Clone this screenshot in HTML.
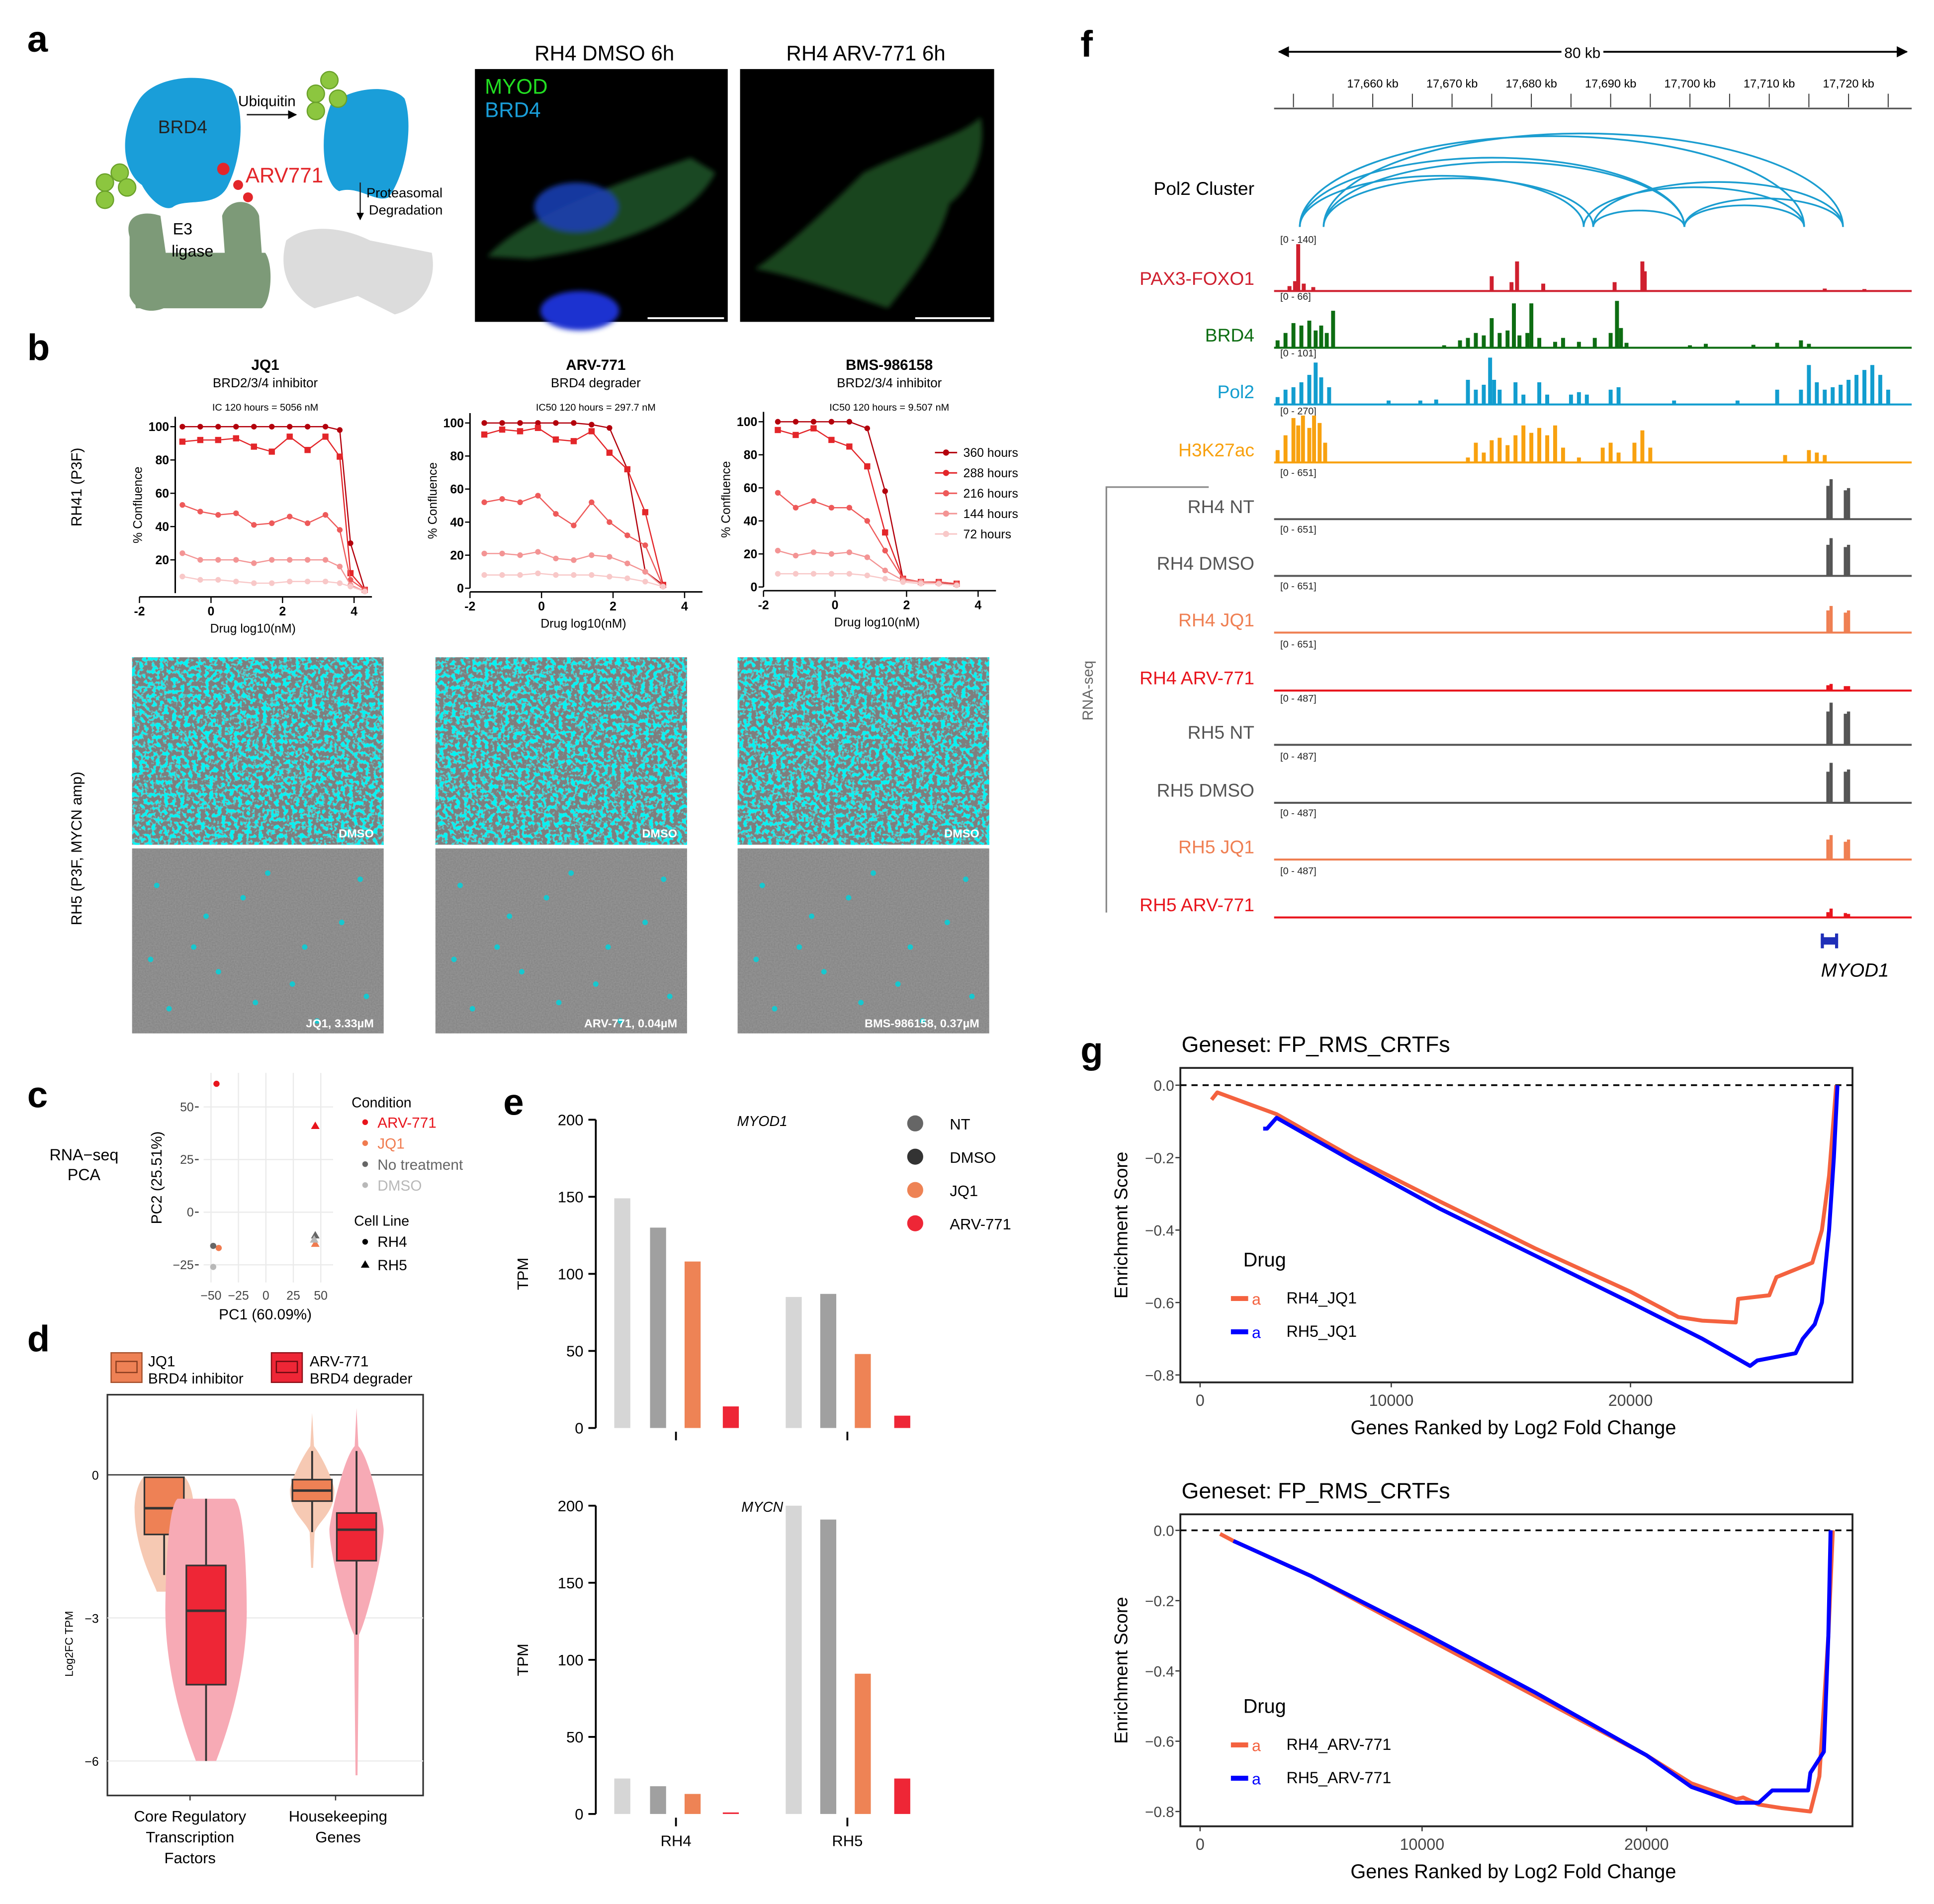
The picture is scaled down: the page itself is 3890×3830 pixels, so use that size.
<!DOCTYPE html>
<html><head><meta charset="utf-8">
<style>
html,body{margin:0;padding:0;background:#fff;}
svg{display:block;}
text{font-family:"Liberation Sans",sans-serif;}
</style></head>
<body>
<svg id="fig" width="3890" height="3830" viewBox="0 0 1568 1544" xmlns="http://www.w3.org/2000/svg">
<defs>
  <filter id="cyanNoise" x="0" y="0" width="100%" height="100%">
    <feTurbulence type="fractalNoise" baseFrequency="0.3" numOctaves="2" seed="3" result="n"/>
    <feColorMatrix in="n" type="matrix" values="0 0 0 0 0  0 0 0 0 0.9  0 0 0 0 0.9  7 0 0 0 -3.3" result="c"/>
    <feComposite in="c" in2="SourceGraphic" operator="over"/>
  </filter>
  <filter id="grain" x="0" y="0" width="100%" height="100%">
    <feTurbulence type="fractalNoise" baseFrequency="0.9" numOctaves="1" seed="7" result="n"/>
    <feColorMatrix in="n" type="matrix" values="0 0 0 0 0.5  0 0 0 0 0.5  0 0 0 0 0.5  0 0 0 0.35 0" result="g"/>
    <feComposite in="g" in2="SourceGraphic" operator="over"/>
  </filter>
  <filter id="blur2"><feGaussianBlur stdDeviation="2"/></filter>
  <marker id="arrL" viewBox="0 0 10 10" refX="1" refY="5" markerWidth="6" markerHeight="6" orient="auto"><path d="M10 0 L0 5 L10 10z" fill="#000"/></marker>
  <marker id="arrR" viewBox="0 0 10 10" refX="9" refY="5" markerWidth="6" markerHeight="6" orient="auto"><path d="M0 0 L10 5 L0 10z" fill="#000"/></marker>
</defs>

<g font-weight="bold" font-size="30">
  <text x="22" y="42">a</text>
  <text x="22" y="292">b</text>
  <text x="22" y="898">c</text>
  <text x="22" y="1096">d</text>
  <text x="408" y="904">e</text>
  <text x="876" y="46">f</text>
  <text x="876" y="862">g</text>
</g>

<g>
  <path d="M112 82 C125 60 170 58 188 72 C200 92 195 130 185 150 C176 170 150 160 140 168 C132 172 120 160 115 150 C100 140 95 110 112 82z" fill="#1a9ed9"/>
  <text x="128" y="108" font-size="15" fill="#222">BRD4</text>
  <path d="M268 85 C285 70 318 68 328 80 C335 100 330 140 315 160 C305 165 290 150 275 155 C262 150 258 110 268 85z" fill="#1a9ed9"/>
  <g fill="#8cc63f" stroke="#6aa12a" stroke-width="1">
    <circle cx="85" cy="148" r="7"/><circle cx="97" cy="140" r="7"/><circle cx="103" cy="152" r="7"/><circle cx="85" cy="162" r="7"/>
  </g>
  <g fill="#8cc63f" stroke="#6aa12a" stroke-width="1">
    <circle cx="256" cy="76" r="7"/><circle cx="267" cy="65" r="7"/><circle cx="274" cy="80" r="7"/><circle cx="256" cy="90" r="7"/>
  </g>
  <text x="193" y="86" font-size="12">Ubiquitin</text>
  <line x1="200" y1="93" x2="240" y2="93" stroke="#222" stroke-width="1.2" marker-end="url(#arrR)"/>
  <path d="M105 192 C100 175 115 170 130 175 L140 245 C130 255 110 255 105 240z" fill="#7d9a78"/>
  <path d="M105 205 L215 205 C222 215 220 245 212 250 L110 250z" fill="#7d9a78"/>
  <path d="M180 175 C185 160 205 160 210 175 L215 245 L185 245z" fill="#7d9a78"/>
  <text x="148" y="190" font-size="13" text-anchor="middle">E3</text>
  <text x="156" y="208" font-size="13" text-anchor="middle">ligase</text>
  <g fill="#e3262a"><circle cx="181" cy="137" r="5"/><circle cx="193" cy="150" r="4"/><circle cx="201" cy="160" r="4"/></g>
  <text x="199" y="148" font-size="17" fill="#e3262a">ARV771</text>
  <line x1="292" y1="148" x2="292" y2="178" stroke="#222" stroke-width="1" marker-end="url(#arrR)"/>
  <text x="297" y="160" font-size="11">Proteasomal</text>
  <text x="299" y="174" font-size="11">Degradation</text>
  <path d="M232 195 C250 180 280 185 300 195 L350 205 C355 230 340 250 320 255 L290 240 L255 250 C235 240 225 220 232 195z" fill="#dcdcdc"/>
</g>

<g>
  <text x="490" y="49" font-size="17" text-anchor="middle">RH4 DMSO 6h</text>
  <text x="702" y="49" font-size="17" text-anchor="middle">RH4 ARV-771 6h</text>
  <rect x="385" y="56" width="205" height="205" fill="#000"/>
  <g filter="url(#blur2)">
    <path d="M395 208 C420 180 480 155 560 128 L580 140 C560 180 500 200 430 210z" fill="#1f5a2a" opacity="0.8"/>
    <ellipse cx="467" cy="168" rx="34" ry="20" fill="#1a3fb0" opacity="0.9"/>
    <ellipse cx="470" cy="252" rx="32" ry="16" fill="#1a30d0"/>
  </g>
  <text x="393" y="76" font-size="17" fill="#22dd22">MYOD</text>
  <text x="393" y="95" font-size="17" fill="#1a9ed9">BRD4</text>
  <line x1="525" y1="258" x2="587" y2="258" stroke="#fff" stroke-width="1.5"/>
  <rect x="600" y="56" width="206" height="205" fill="#000"/>
  <path d="M612 218 C640 200 690 150 700 140 C740 120 780 110 795 95 C800 120 790 150 770 165 C760 200 740 225 720 250 C690 240 650 225 612 218z" fill="#1e4d24" opacity="0.9" filter="url(#blur2)"/>
  <line x1="742" y1="258" x2="803" y2="258" stroke="#fff" stroke-width="1.5"/>
</g>

<g id="doseGroup"></g>
<text x="66" y="395" font-size="12" transform="rotate(-90 66 395)" text-anchor="middle">RH41 (P3F)</text>
<text x="66" y="688" font-size="12" transform="rotate(-90 66 688)" text-anchor="middle">RH5 (P3F, MYCN amp)</text>

<g id="micro"></g>
<g id="pca"></g>
<g id="violin"></g>
<g id="bars"></g>
<g id="tracks"></g>
<g id="gsea"></g>
</svg>

<script>
const NS="http://www.w3.org/2000/svg";
function mk(parent,tag,attrs,txt){const e=document.createElementNS(NS,tag);for(const k in attrs)e.setAttribute(k,attrs[k]);if(txt!==undefined)e.textContent=txt;parent.appendChild(e);return e;}

/* ---------- Panel b data ---------- */
const doseSeriesNames=["360 hours","288 hours","216 hours","144 hours","72 hours"];
const doseColors=["#b3000c","#e3262a","#ee5a5a","#f39494","#f8c8c8"];
const jq1X=[-0.8,-0.3,0.2,0.7,1.2,1.7,2.2,2.7,3.2,3.6,3.9,4.3];
const jq1_360=[100,100,100,100,100,100,100,100,100,98,30,2];
const jq1_288=[91,92,92,93,88,85,94,86,94,82,12,2];
const jq1_216=[53,49,47,48,41,42,46,42,47,38,8,2];
const jq1_144=[24,20,20,20,18,20,20,20,20,16,5,1];
const jq1_72=[10,8,8,7,6,6,7,7,7,6,4,1];
const arvX=[-1.6,-1.1,-0.6,-0.1,0.4,0.9,1.4,1.9,2.4,2.9,3.4];
const arv_360=[100,100,100,100,100,100,99,97,72,10,2];
const arv_288=[93,96,95,97,90,89,95,82,72,46,2];
const arv_216=[52,54,52,56,45,38,52,40,32,26,1];
const arv_144=[21,21,20,22,18,17,20,19,15,10,1];
const arv_72=[8,8,8,9,8,8,8,7,6,4,1];
const bmsX=[-1.6,-1.1,-0.6,-0.1,0.4,0.9,1.4,1.9,2.4,2.9,3.4];
const bms_360=[100,100,100,100,100,96,58,5,3,2,2];
const bms_288=[95,92,96,89,85,73,33,5,3,3,2];
const bms_216=[57,48,52,48,48,40,22,5,3,3,2];
const bms_144=[22,19,21,20,21,18,10,4,3,2,1];
const bms_72=[8,8,8,8,8,7,5,3,2,2,1];
const doseTicksX=[-2,0,2,4];
const doseTicksY=[0,20,40,60,80,100];

const dosePlots=[
 {name:"jq1",title:"JQ1",sub:"BRD2/3/4 inhibitor",ic:"IC   120 hours = 5056 nM",x0:113,x4:287,yTop:338,yBot:481,yAxisAt:-1,X:jq1X,S:[jq1_360,jq1_288,jq1_216,jq1_144,jq1_72],ticksY:[20,40,60,80,100]},
 {name:"arv771",title:"ARV-771",sub:"BRD4 degrader",ic:"IC50 120 hours = 297.7 nM",x0:381,x4:555,yTop:335,yBot:477,yAxisAt:-2,X:arvX,S:[arv_360,arv_288,arv_216,arv_144,arv_72],ticksY:doseTicksY},
 {name:"bms",title:"BMS-986158",sub:"BRD2/3/4 inhibitor",ic:"IC50 120 hours = 9.507 nM",x0:619,x4:793,yTop:334,yBot:476,yAxisAt:-2,X:bmsX,S:[bms_360,bms_288,bms_216,bms_144,bms_72],ticksY:doseTicksY}
];
(function(){
 const G=document.getElementById("doseGroup");
 dosePlots.forEach(p=>{
  const g=mk(G,"g",{});
  
  
  const sx=v=>p.x0+(v+2)*(p.x4-p.x0)/6;
  const y100=p.yTop+8;
  const sy=v=>p.yBot-(v/100)*(p.yBot-y100);
  const cx=(p.x0+p.x4)/2+15;
  mk(g,"text",{x:cx,y:300,"font-size":12,"font-weight":"bold","text-anchor":"middle"},p.title);
  mk(g,"text",{x:cx,y:314,"font-size":10.5,"text-anchor":"middle"},p.sub);
  mk(g,"text",{x:cx,y:333,"font-size":8,"text-anchor":"middle"},p.ic);
  const ax=sx(p.yAxisAt);
  mk(g,"line",{x1:ax,y1:p.yTop,x2:ax,y2:p.yBot,stroke:"#000","stroke-width":1.2});
  mk(g,"line",{x1:sx(-2),y1:p.yBot+3,x2:sx(4.5),y2:p.yBot+3,stroke:"#000","stroke-width":1.2});
  doseTicksX.forEach(t=>{mk(g,"line",{x1:sx(t),y1:p.yBot+3,x2:sx(t),y2:p.yBot+8,stroke:"#000"});
   const tl=mk(g,"text",{x:sx(t),y:p.yBot+18,"font-size":10,"text-anchor":"middle","font-weight":"bold"},String(t));
   });
  p.ticksY.forEach(t=>{mk(g,"line",{x1:ax-4,y1:sy(t),x2:ax,y2:sy(t),stroke:"#000"});
   mk(g,"text",{x:ax-5,y:sy(t)+3.5,"font-size":10,"text-anchor":"end","font-weight":"bold"},String(t));});
  mk(g,"text",{x:cx-10,y:p.yBot+32,"font-size":10,"text-anchor":"middle"},"Drug log10(nM)");
  const yl=mk(g,"text",{x:ax-27,y:(p.yTop+p.yBot)/2,"font-size":10,"text-anchor":"middle",transform:`rotate(-90 ${ax-27} ${(p.yTop+p.yBot)/2})`},"% Confluence");
  
  p.S.forEach((ser,i)=>{
   const pts=ser.map((v,j)=>sx(p.X[j])+","+sy(v)).join(" ");
   const pl=mk(g,"polyline",{points:pts,fill:"none",stroke:doseColors[i],"stroke-width":1});
   
   
   ser.forEach((v,j)=>{
     const m=mk(g,i==1?"rect":"circle",i==1?{x:sx(p.X[j])-2.5,y:sy(v)-2.5,width:5,height:5,fill:doseColors[i]}:{cx:sx(p.X[j]),cy:sy(v),r:2.3,fill:doseColors[i]});
     
   });
  });
 });
 const lg=mk(G,"g",{});
 
 doseSeriesNames.forEach((n,i)=>{const y=367+i*16.5;
  mk(lg,"line",{x1:758,y1:y,x2:776,y2:y,stroke:doseColors[i],"stroke-width":1.2});
  mk(lg,"circle",{cx:767,cy:y,r:2.5,fill:doseColors[i]});
  mk(lg,"text",{x:781,y:y+3.5,"font-size":10},n);});
})();

/* ---------- microscopy ---------- */
(function(){
 const G=document.getElementById("micro");
 const cols=[107,353,598];
 const top=["DMSO","DMSO","DMSO"];
 const bot=["JQ1, 3.33µM","ARV-771, 0.04µM","BMS-986158, 0.37µM"];
 const specks=[[20,30],[50,80],[90,40],[130,110],[170,60],[30,130],[110,20],[150,140],[70,100],[185,25],[60,55],[140,80],[100,125],[15,90],[190,120]];
 cols.forEach((x,i)=>{
  const r1=mk(G,"rect",{x:x,y:533,width:204,height:152,fill:"#7e7e7e",filter:"url(#cyanNoise)"});
  
  mk(G,"text",{x:x+196,y:679,"font-size":9.5,"font-weight":"bold",fill:"#fff","text-anchor":"end"},top[i]);
  const r2=mk(G,"rect",{x:x,y:688,width:204,height:150,fill:"#808080",filter:"url(#grain)"});
  
  specks.forEach(s=>mk(G,"circle",{cx:x+s[0],cy:688+s[1],r:2.2,fill:"#17c8cf"}));
  mk(G,"text",{x:x+196,y:833,"font-size":9.5,"font-weight":"bold",fill:"#fff","text-anchor":"end"},bot[i]);
 });
})();

/* ---------- Panel c PCA ---------- */
const pcaPC1=[-45,45,-43,45,-48,45,-48,44];
const pcaPC2=[61,41,-17,-15,-16,-11,-26,-13];
const pcaCond=["ARV-771","ARV-771","JQ1","JQ1","No treatment","No treatment","DMSO","DMSO"];
const pcaLine=["RH4","RH5","RH4","RH5","RH4","RH5","RH4","RH5"];
const pcaTicks=[-50,-25,0,25,50];
(function(){
 const G=document.getElementById("pca");
 const col={"ARV-771":"#e8141c","JQ1":"#f07b4f","No treatment":"#666","DMSO":"#b8b8b8"};
 const sx=v=>215.5+v*0.89, sy=v=>983-v*1.707;
 mk(G,"text",{x:68,y:941,"font-size":13,"text-anchor":"middle"},"RNA−seq");
 mk(G,"text",{x:68,y:957,"font-size":13,"text-anchor":"middle"},"PCA");
 pcaTicks.forEach(t=>{
  mk(G,"line",{x1:sx(t),y1:870,x2:sx(t),y2:1040,stroke:"#ebebeb","stroke-width":1});
  if(t>=-25) mk(G,"line",{x1:165,y1:sy(t),x2:270,y2:sy(t),stroke:"#ebebeb","stroke-width":1});
  mk(G,"text",{x:sx(t),y:1054,"font-size":10,"text-anchor":"middle",fill:"#444"},t<0?"−"+(-t):String(t));
  if(t>=-25){mk(G,"text",{x:157,y:sy(t)+3.5,"font-size":10,"text-anchor":"end",fill:"#444"},t<0?"−"+(-t):String(t));
   mk(G,"line",{x1:158,y1:sy(t),x2:161,y2:sy(t),stroke:"#444"});}
 });
 mk(G,"text",{x:215,y:1070,"font-size":12,"text-anchor":"middle"},"PC1 (60.09%)");
 mk(G,"text",{x:131,y:955,"font-size":12,"text-anchor":"middle",transform:"rotate(-90 131 955)"},"PC2 (25.51%)");
 pcaPC1.forEach((v,i)=>{
  const x=sx(v),y=sy(pcaPC2[i]);
  const m=pcaLine[i]=="RH4"?mk(G,"circle",{cx:x,cy:y,r:2.5,fill:col[pcaCond[i]]}):mk(G,"path",{d:`M${x} ${y-3.5} L${x+3.5} ${y+2.5} L${x-3.5} ${y+2.5}z`,fill:col[pcaCond[i]]});
  
 });
 const L=mk(G,"g",{});
 mk(L,"text",{x:285,y:898,"font-size":11.5},"Condition");
 ["ARV-771","JQ1","No treatment","DMSO"].forEach((c,i)=>{const y=910+i*17;
  mk(L,"circle",{cx:296,cy:y,r:2.3,fill:col[c]});mk(L,"text",{x:306,y:y+4.5,"font-size":12,fill:col[c]},c);});
 mk(L,"text",{x:287,y:994,"font-size":11.5},"Cell Line");
 mk(L,"circle",{cx:296,cy:1007,r:2.3,fill:"#000"});mk(L,"text",{x:306,y:1011,"font-size":12},"RH4");
 mk(L,"path",{d:"M296 1022 L299.5 1028 L292.5 1028z",fill:"#000"});mk(L,"text",{x:306,y:1030,"font-size":12},"RH5");
})();

/* ---------- Panel d violin ---------- */
const vGroups=["Core Regulatory Transcription Factors","Housekeeping Genes"];
const vQ1=[-1.25,-4.4,-0.55,-1.8];
const vMed=[-0.7,-2.85,-0.33,-1.15];
const vQ3=[-0.05,-1.9,-0.1,-0.8];
const vLo=[-2.1,-6.0,-1.2,-3.35];
const vHi=[-0.05,-0.5,0.5,0.5];
const vMin=[-2.45,-6.0,-1.95,-6.3];
const vMax=[-0.05,-0.5,1.3,1.4];
(function(){
 const G=document.getElementById("violin");
 const sy=v=>1196-v*38.67;
 const centers=[133,167,253,289];
 const fills=["#ee8155","#ee2636","#ee8155","#ee2636"];
 const vfill=["#f6c9b3","#f7aab5","#f6c9b3","#f7aab5"];
 const widths=[24,33,18,22];
 mk(G,"rect",{x:87,y:1131,width:256,height:325,fill:"#fff",stroke:"#333","stroke-width":1.3});
 [-3,-6].forEach(t=>mk(G,"line",{x1:87,y1:sy(t),x2:343,y2:sy(t),stroke:"#ebebeb"}));
 mk(G,"line",{x1:87,y1:sy(0),x2:343,y2:sy(0),stroke:"#333","stroke-width":1});
 [0,-3,-6].forEach(t=>mk(G,"text",{x:80,y:sy(t)+4,"font-size":10,"text-anchor":"end"},t<0?"−"+(-t):String(t)));
 mk(G,"text",{x:59,y:1333,"font-size":9,"text-anchor":"middle",transform:"rotate(-90 59 1333)"},"Log2FC TPM");
 centers.forEach((c,i)=>{
  const w=widths[i], t=sy(vMax[i]), b=sy(vMin[i]), m=sy(vMed[i]);
  let d;
  if(i>=2){
   // narrow tails above and below the body
   const bt=sy(vHi[i])-4, bb=sy(vLo[i]);
   d=`M${c} ${t} L${c+1.5} ${bt} C${c+w*0.5} ${bt+10} ${c+w} ${m-6} ${c+w} ${m} C${c+w} ${m+18} ${c+w*0.35} ${bb-10} ${c+2} ${bb} L${c+0.8} ${b} L${c-0.8} ${b} L${c-2} ${bb} C${c-w*0.35} ${bb-10} ${c-w} ${m+18} ${c-w} ${m} C${c-w} ${m-6} ${c-w*0.5} ${bt+10} ${c-1.5} ${bt}z`;
  } else {
   d=`M${c-w*0.7} ${t} L${c+w*0.7} ${t} C${c+w} ${t+8} ${c+w} ${m} ${c+w} ${m} C${c+w} ${(m+b)/2} ${c+w*0.3} ${b-5} ${c+w*0.25} ${b} L${c-w*0.25} ${b} C${c-w*0.3} ${b-5} ${c-w} ${(m+b)/2} ${c-w} ${m} C${c-w} ${m} ${c-w} ${t+8} ${c-w*0.7} ${t}z`;
  }
  const v=mk(G,"path",{d:d,fill:vfill[i]});
  
  mk(G,"line",{x1:c,y1:sy(vHi[i]),x2:c,y2:sy(vLo[i]),stroke:"#333","stroke-width":1.5});
  const bx=mk(G,"rect",{x:c-16,y:sy(vQ3[i]),width:32,height:sy(vQ1[i])-sy(vQ3[i]),fill:fills[i],stroke:"#333","stroke-width":1.3});
  
  mk(G,"line",{x1:c-16,y1:sy(vMed[i]),x2:c+16,y2:sy(vMed[i]),stroke:"#333","stroke-width":2});
 });
 mk(G,"line",{x1:154,y1:1456,x2:154,y2:1460,stroke:"#333"});mk(G,"line",{x1:272,y1:1456,x2:272,y2:1460,stroke:"#333"});
 mk(G,"text",{x:154,y:1477,"font-size":12.5,"text-anchor":"middle"},"Core Regulatory");
 mk(G,"text",{x:154,y:1494,"font-size":12.5,"text-anchor":"middle"},"Transcription");
 mk(G,"text",{x:154,y:1511,"font-size":12.5,"text-anchor":"middle"},"Factors");
 mk(G,"text",{x:274,y:1477,"font-size":12.5,"text-anchor":"middle"},"Housekeeping");
 mk(G,"text",{x:274,y:1494,"font-size":12.5,"text-anchor":"middle"},"Genes");
 const L=mk(G,"g",{});
 mk(L,"rect",{x:90,y:1097,width:25,height:24,fill:"#ee8155",stroke:"#a4502c"});
 mk(L,"rect",{x:94,y:1104,width:17,height:9,fill:"none",stroke:"#8a3d20"});
 mk(L,"text",{x:120,y:1108,"font-size":12},"JQ1");mk(L,"text",{x:120,y:1122,"font-size":12},"BRD4 inhibitor");
 mk(L,"rect",{x:220,y:1097,width:25,height:24,fill:"#ee2636",stroke:"#8a1018"});
 mk(L,"rect",{x:224,y:1104,width:17,height:9,fill:"none",stroke:"#6a0a10"});
 mk(L,"text",{x:251,y:1108,"font-size":12},"ARV-771");mk(L,"text",{x:251,y:1122,"font-size":12},"BRD4 degrader");
})();

/* ---------- Panel e bars ---------- */
const barConds=["NT","DMSO","JQ1","ARV-771"];
const barCells=["RH4","RH5"];
const myod1RH4=[149,130,108,14];
const myod1RH5=[85,87,48,8];
const mycnRH4=[23,18,13,1];
const mycnRH5=[200,191,91,23];
const barTicks=[0,50,100,150,200];
(function(){
 const G=document.getElementById("bars");
 const colors=["#d6d6d6","#a0a0a0","#ee8355","#ee2636"];
 const legendCol=["#666","#333","#ee8355","#ee2636"];
 const offs=[[498,527,555,586],[637,665,693,725]];
 function panel(title,y0,yTop,d4,d5){
  const sy=v=>y0-(v/200)*(y0-yTop);
  mk(G,"line",{x1:483,y1:yTop,x2:483,y2:y0,stroke:"#000","stroke-width":1.5});
  barTicks.forEach(t=>{mk(G,"line",{x1:477,y1:sy(t),x2:483,y2:sy(t),stroke:"#000","stroke-width":1.5});
   mk(G,"text",{x:473,y:sy(t)+4.5,"font-size":12.5,"text-anchor":"end"},String(t));});
  mk(G,"text",{x:618,y:yTop+5,"font-size":11.5,"font-style":"italic","text-anchor":"middle"},title);
  mk(G,"text",{x:428,y:(y0+yTop)/2,"font-size":12.5,"text-anchor":"middle",transform:`rotate(-90 428 ${(y0+yTop)/2})`},"TPM");
  [d4,d5].forEach((d,ci)=>{d.forEach((v,k)=>{
    const r=mk(G,"rect",{x:offs[ci][k],y:sy(v),width:13,height:y0-sy(v),fill:colors[k]});
    
  });
  const tx=ci==0?548:687;
  mk(G,"line",{x1:tx,y1:y0+3,x2:tx,y2:y0+10,stroke:"#000","stroke-width":1.5});});
 }
 panel("MYOD1",1158,908,myod1RH4,myod1RH5);
 panel("MYCN",1471,1221,mycnRH4,mycnRH5);
 mk(G,"text",{x:548,y:1497,"font-size":12.5,"text-anchor":"middle"},"RH4");
 mk(G,"text",{x:687,y:1497,"font-size":12.5,"text-anchor":"middle"},"RH5");
 barConds.forEach((c,i)=>{const y=911+i*27;
  const d=mk(G,"circle",{cx:742,cy:y,r:6.5,fill:legendCol[i]});
  
  mk(G,"text",{x:770,y:y+5,"font-size":12.5},c);});
})();

/* ---------- Panel f tracks ---------- */
const kbTicks=[17660,17670,17680,17690,17700,17710,17720];
const arcStart=[17650.8,17653.8,17650.8,17653.8,17650.8,17653.8,17686.6,17687.8,17687.8,17699.3,17699.3];
const arcEnd=[17714.4,17719.3,17699.3,17699.3,17686.6,17687.8,17714.4,17719.3,17699.3,17714.4,17719.3];
const trackNames=["PAX3-FOXO1","BRD4","Pol2","H3K27ac","RH4 NT","RH4 DMSO","RH4 JQ1","RH4 ARV-771","RH5 NT","RH5 DMSO","RH5 JQ1","RH5 ARV-771"];
const trackRanges=["[0 - 140]","[0 - 66]","[0 - 101]","[0 - 270]","[0 - 651]","[0 - 651]","[0 - 651]","[0 - 651]","[0 - 487]","[0 - 487]","[0 - 487]","[0 - 487]"];
const pax3Pos=[17649.5,17650.2,17650.6,17651.3,17652.5,17675,17677.5,17678.2,17681.5,17690.5,17694,17694.3,17717,17722];
const pax3Val=[0.1,0.2,0.95,0.15,0.08,0.3,0.18,0.6,0.15,0.18,0.6,0.4,0.05,0.04];
const brd4Pos=[17648,17649,17650,17651,17652,17652.8,17653.5,17654.2,17655,17669,17671,17672,17673,17674,17675,17676,17677,17677.8,17678.5,17679.5,17680,17681,17683,17684,17686,17688,17690,17690.8,17691.3,17692,17700,17702,17708,17711,17714,17715];
const brd4Val=[0.15,0.3,0.5,0.45,0.55,0.35,0.45,0.3,0.75,0.05,0.15,0.2,0.3,0.25,0.6,0.3,0.35,0.9,0.25,0.3,0.9,0.2,0.12,0.2,0.12,0.2,0.3,0.95,0.4,0.1,0.05,0.08,0.06,0.1,0.15,0.08];
const pol2Pos=[17648,17649,17650,17651,17652,17652.8,17653.5,17654.5,17662,17666,17668,17672,17673,17674,17674.8,17675.3,17676,17678,17679,17681,17682,17685,17686,17687,17690,17691,17698,17706,17711,17714,17715,17716,17717,17718,17719,17720,17721,17722,17723,17724,17725];
const pol2Val=[0.15,0.3,0.35,0.45,0.6,0.85,0.55,0.35,0.08,0.08,0.1,0.5,0.3,0.4,0.95,0.5,0.3,0.45,0.2,0.45,0.2,0.2,0.25,0.2,0.3,0.35,0.08,0.08,0.3,0.3,0.8,0.45,0.3,0.35,0.4,0.5,0.6,0.7,0.8,0.6,0.3];
const h3Pos=[17648,17649,17650,17650.6,17651.2,17652,17652.6,17653.3,17654,17672,17673,17674,17675,17676,17677,17678,17679,17680,17681,17682,17683,17684,17686,17689,17690,17691,17693,17694,17695,17712,17715,17716,17717];
const h3Val=[0.25,0.55,0.9,0.75,0.95,0.7,0.95,0.8,0.4,0.1,0.4,0.2,0.45,0.5,0.35,0.55,0.75,0.6,0.7,0.55,0.75,0.3,0.1,0.3,0.4,0.2,0.4,0.65,0.3,0.15,0.25,0.2,0.15];
const rnaPos=[17717.4,17717.8,17719.6,17720.0];
const rnaRH4NT=[0.75,0.9,0.65,0.7];
const rnaRH4DMSO=[0.7,0.85,0.65,0.7];
const rnaRH4JQ1=[0.5,0.6,0.45,0.5];
const rnaRH4ARV=[0.12,0.15,0.1,0.1];
const rnaRH5NT=[0.75,0.95,0.7,0.75];
const rnaRH5DMSO=[0.7,0.9,0.7,0.75];
const rnaRH5JQ1=[0.45,0.55,0.4,0.45];
const rnaRH5ARV=[0.12,0.2,0.1,0.08];
(function(){
 const G=document.getElementById("tracks");
 const sx=kb=>1113+(kb-17660)*6.43;
 const L=1033,R=1550;
 mk(G,"line",{x1:L+4,y1:42,x2:1266,y2:42,stroke:"#000","stroke-width":1.5,"marker-start":"url(#arrL)"});
 mk(G,"line",{x1:1300,y1:42,x2:R-4,y2:42,stroke:"#000","stroke-width":1.5,"marker-end":"url(#arrR)"});
 mk(G,"text",{x:1283,y:47,"font-size":12,"text-anchor":"middle"},"80 kb");
 mk(G,"line",{x1:L,y1:88,x2:R,y2:88,stroke:"#555","stroke-width":1.3});
 for(let k=17650;k<=17729;k+=5){mk(G,"line",{x1:sx(k),y1:76,x2:sx(k),y2:87,stroke:"#333","stroke-width":0.8});}
 kbTicks.forEach(k=>{const t=mk(G,"text",{x:sx(k),y:71,"font-size":9.5,"text-anchor":"middle"},k.toLocaleString("en-US")+" kb");
   });
 mk(G,"text",{x:1017,y:158,"font-size":15,"text-anchor":"end"},"Pol2 Cluster");
 arcStart.forEach((s,i)=>{const x1=sx(s),x2=sx(arcEnd[i]);const h=(x2-x1)*0.18;
  const a=mk(G,"path",{d:`M${x1} 184 A${(x2-x1)/2} ${h} 0 0 1 ${x2} 184`,fill:"none",stroke:"#1b9dd0","stroke-width":1.4});
  });
 const baselines=[236,282,328,375,421,467,513,560,604,651,697,744];
 const colors=["#cf1f2e","#0d6d12","#129dcf","#f8a10f","#555","#555","#ef7f52","#e8141c","#555","#555","#ef7f52","#e8141c"];
 const pos=[pax3Pos,brd4Pos,pol2Pos,h3Pos,rnaPos,rnaPos,rnaPos,rnaPos,rnaPos,rnaPos,rnaPos,rnaPos];
 const vals=[pax3Val,brd4Val,pol2Val,h3Val,rnaRH4NT,rnaRH4DMSO,rnaRH4JQ1,rnaRH4ARV,rnaRH5NT,rnaRH5DMSO,rnaRH5JQ1,rnaRH5ARV];
 trackNames.forEach((n,i)=>{
  const b=baselines[i], H=i<4?40:36, w=i<4?3.2:2.6;
  const tg=mk(G,"g",{});
  
  
  mk(tg,"line",{x1:L,y1:b,x2:R,y2:b,stroke:colors[i],"stroke-width":1.6});
  mk(tg,"text",{x:1038,y:b-H+1,"font-size":8,fill:"#222"},trackRanges[i]);
  mk(tg,"text",{x:1017,y:b-5,"font-size":15,"text-anchor":"end",fill:colors[i]},n);
  pos[i].forEach((p,j)=>{const hh=vals[i][j]*H;
   const r=mk(tg,"rect",{x:sx(p)-w/2,y:b-hh,width:w,height:hh,fill:colors[i]});
   });
 });
 mk(G,"path",{d:"M980 395 L897 395 L897 740",fill:"none",stroke:"#888","stroke-width":1.3});
 mk(G,"text",{x:886,y:560,"font-size":12,fill:"#666","text-anchor":"middle",transform:"rotate(-90 886 560)"},"RNA-seq");
 mk(G,"rect",{x:sx(17716.5),y:757,width:2.5,height:12,fill:"#1f2fb8"});
 mk(G,"rect",{x:sx(17716.5),y:760,width:14,height:6,fill:"#1f2fb8"});
 mk(G,"rect",{x:sx(17718.3),y:757,width:2.5,height:12,fill:"#1f2fb8"});
 mk(G,"text",{x:1504,y:792,"font-size":15.5,"font-style":"italic","text-anchor":"middle"},"MYOD1");
})();

/* ---------- Panel g GSEA ---------- */
const jqRankRH4=[600,900,4000,8000,12000,16000,20000,22000,23000,24400,24500,25800,26100,27600,28000,28300,28600];
const jqESRH4=[-0.04,-0.02,-0.08,-0.2,-0.32,-0.45,-0.57,-0.64,-0.65,-0.655,-0.59,-0.58,-0.53,-0.49,-0.4,-0.25,0];
const jqRankRH5=[3300,3500,4000,8000,12000,16000,20000,23000,25000,25300,26900,27200,27700,28000,28300,28500,28650];
const jqESRH5=[-0.12,-0.12,-0.09,-0.21,-0.34,-0.47,-0.6,-0.7,-0.775,-0.76,-0.74,-0.7,-0.66,-0.6,-0.4,-0.2,0];
const arvRankRH4=[900,1500,5000,10000,15000,20000,22000,24000,24300,25000,26000,27300,27700,28100,28300];
const arvESRH4=[-0.01,-0.03,-0.13,-0.3,-0.47,-0.64,-0.72,-0.765,-0.76,-0.78,-0.79,-0.8,-0.7,-0.3,0];
const arvRankRH5=[1500,5000,10000,15000,20000,22000,24000,25000,25600,27200,27300,27900,28100,28200];
const arvESRH5=[-0.03,-0.13,-0.29,-0.46,-0.64,-0.73,-0.775,-0.775,-0.74,-0.74,-0.69,-0.63,-0.3,0];
const gseaTicksX=[0,10000,20000];
const gseaTicksY=[0,-0.2,-0.4,-0.6,-0.8];
(function(){
 const G=document.getElementById("gsea");
 const BL=957, BR=1502;
 function plot(y0,yBox,yBoxB,y08,xs,series,labels){
  const sx=v=>v<=10000?973+(v/10000)*(xs[0]-973):xs[0]+((v-10000)/10000)*(xs[1]-xs[0]);
  const sy=v=>y0+(-v/0.8)*(y08-y0);
  mk(G,"text",{x:958,y:yBox-13,"font-size":18},"Geneset: FP_RMS_CRTFs");
  mk(G,"rect",{x:BL,y:yBox,width:BR-BL,height:yBoxB-yBox,fill:"none",stroke:"#222","stroke-width":1.5});
  mk(G,"line",{x1:BL,y1:y0,x2:BR,y2:y0,stroke:"#000","stroke-width":1.4,"stroke-dasharray":"5 4"});
  gseaTicksY.forEach(t=>{mk(G,"line",{x1:BL-4,y1:sy(t),x2:BL,y2:sy(t),stroke:"#333"});
   const tl=mk(G,"text",{x:BL-5,y:sy(t)+4.5,"font-size":12,"text-anchor":"end",fill:"#444"},t==0?"0.0":"−"+(-t).toFixed(1));
   });
  gseaTicksX.forEach(t=>{mk(G,"line",{x1:sx(t),y1:yBoxB,x2:sx(t),y2:yBoxB+4,stroke:"#333"});
   mk(G,"text",{x:sx(t),y:yBoxB+19,"font-size":13,"text-anchor":"middle",fill:"#444"},String(t));});
  mk(G,"text",{x:1227,y:yBoxB+42,"font-size":16,"text-anchor":"middle"},"Genes Ranked by Log2 Fold Change");
  const cy=(yBox+yBoxB)/2;
  const yt=mk(G,"text",{x:914,y:cy,"font-size":15,"text-anchor":"middle",transform:`rotate(-90 914 ${cy})`},"Enrichment Score");
  
  const cols=["#f4623f","#0000ff"];
  series.forEach((s,i)=>{
   const pl=mk(G,"polyline",{points:s[0].map((r,j)=>sx(r)+","+sy(s[1][j])).join(" "),fill:"none",stroke:cols[i],"stroke-width":3.2,"stroke-linejoin":"round"});
   
   
  });
  const ly=yBox+191;
  mk(G,"text",{x:1008,y:ly-30,"font-size":16},"Drug");
  labels.forEach((l,i)=>{const y=ly+i*27;
   mk(G,"line",{x1:998,y1:y-4,x2:1012,y2:y-4,stroke:cols[i],"stroke-width":4});
   mk(G,"text",{x:1015,y:y+1,"font-size":13,fill:cols[i]},"a");
   const t=mk(G,"text",{x:1043,y:y,"font-size":13},l);
   });
 }
 plot(880,866,1121,1115,[1128,1322],[[jqRankRH4,jqESRH4],[jqRankRH5,jqESRH5]],["RH4_JQ1","RH5_JQ1"]);
 plot(1241,1228,1481,1469,[1153,1335],[[arvRankRH4,arvESRH4],[arvRankRH5,arvESRH5]],["RH4_ARV-771","RH5_ARV-771"]);
})();
</script>
</body></html>
